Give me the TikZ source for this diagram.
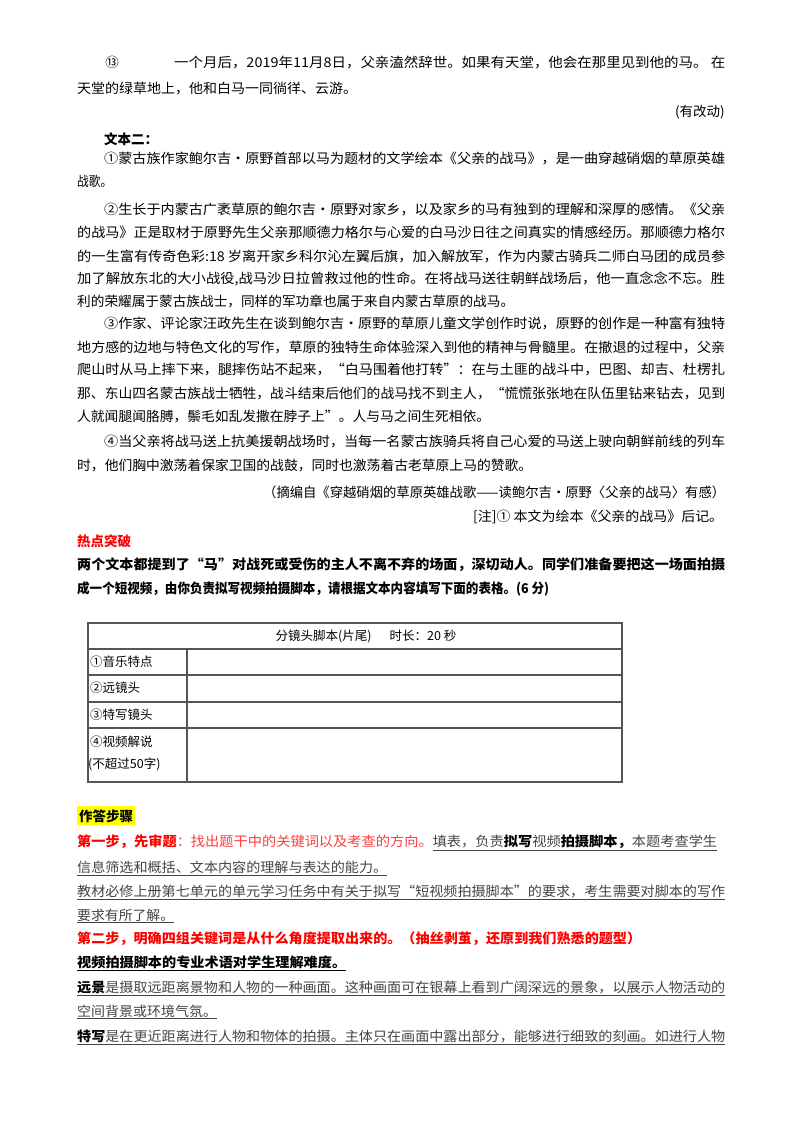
\documentclass[tikz,border=0pt]{standalone}
\usepackage{fontspec}
\setmainfont{Noto Sans CJK SC}
\usepackage{graphicx}
\definecolor{ugray}{HTML}{444444}
\definecolor{tline}{HTML}{555555}
\definecolor{hl}{HTML}{FFFF00}
\newcommand\Ln[5]{\node[anchor=west,inner sep=0] (#1) at (#2pt,-#3pt) {\resizebox{#4pt}{\height}{#5}};}
\newcommand\ulg[1]{{\color{ugray}\underline{#1}}}
\begin{document}
\begin{tikzpicture}[every node/.style={font=\fontsize{13.5}{16}\selectfont}]
\useasboundingbox[fill=white] (0,0) rectangle (800pt,-1134pt);
\node[inner sep=0] (n13) at (112pt,-62pt) {⑬};
\Ln{a1}{174}{62}{551}{一个月后，2019年11月8日，父亲溘然辞世。如果有天堂，他会在那里见到他的马。 在}
\Ln{a2}{77}{89}{280}{天堂的绿草地上，他和白马一同徜徉、云游。}
\node[anchor=east,inner sep=0] (a3) at (725pt,-112pt) {(有改动)};
\node[anchor=west,inner sep=0] (a4) at (104pt,-139pt) {\bfseries 文本二：};
\Ln{b1}{104}{158}{621}{①蒙古族作家鲍尔吉•原野首部以马为题材的文学绘本《父亲的战马》，是一曲穿越硝烟的草原英雄}
\Ln{b2}{77}{181}{35}{战歌。}
\Ln{b3}{104}{209}{621}{②生长于内蒙古广袤草原的鲍尔吉•原野对家乡，以及家乡的马有独到的理解和深厚的感情。《父亲}
\Ln{b4}{77}{232}{648}{的战马》正是取材于原野先生父亲那顺德力格尔与心爱的白马沙日往之间真实的情感经历。那顺德力格尔}
\Ln{b5}{77}{256}{648}{的一生富有传奇色彩:18 岁离开家乡科尔沁左翼后旗，加入解放军，作为内蒙古骑兵二师白马团的成员参}
\Ln{b6}{77}{279}{648}{加了解放东北的大小战役,战马沙日拉曾救过他的性命。在将战马送往朝鲜战场后，他一直念念不忘。胜}
\Ln{b7}{77}{301}{437}{利的荣耀属于蒙古族战士，同样的军功章也属于来自内蒙古草原的战马。}
\Ln{c1}{104}{323}{621}{③作家、评论家汪政先生在谈到鲍尔吉•原野的草原儿童文学创作时说，原野的创作是一种富有独特}
\Ln{c2}{77}{347}{648}{地方感的边地与特色文化的写作，草原的独特生命体验深入到他的精神与骨髓里。在撤退的过程中，父亲}
\Ln{c3}{77}{370}{648}{爬山时从马上摔下来，腿摔伤站不起来，“白马围着他打转”：在与土匪的战斗中，巴图、却吉、杜楞扎}
\Ln{c4}{77}{394}{648}{那、东山四名蒙古族战士牺牲，战斗结束后他们的战马找不到主人，“慌慌张张地在队伍里钻来钻去，见到}
\Ln{c5}{77}{417}{413}{人就闻腿闻胳膊，鬃毛如乱发撒在脖子上”。人与马之间生死相依。}
\Ln{c6}{104}{441}{621}{④当父亲将战马送上抗美援朝战场时，当每一名蒙古族骑兵将自己心爱的马送上驶向朝鲜前线的列车}
\Ln{c7}{77}{465}{455}{时，他们胸中激荡着保家卫国的战鼓，同时也激荡着古老草原上马的赞歌。}
\Ln{c8}{263}{492}{462}{（摘编自《穿越硝烟的草原英雄战歌——读鲍尔吉•原野〈父亲的战马〉有感）}
\Ln{c9}{473}{517}{250}{[注]① 本文为绘本《父亲的战马》后记。}
\node[anchor=west,inner sep=0,text=red] (d1) at (77pt,-541pt) {\bfseries 热点突破};
\Ln{d2}{77}{565}{648}{\bfseries 两个文本都提到了“马”对战死或受伤的主人不离不弃的场面，深切动人。同学们准备要把这一场面拍摄}
\Ln{d3}{77}{589}{472}{\bfseries 成一个短视频，由你负责拟写视频拍摄脚本，请根据文本内容填写下面的表格。(6 分)}
% table
\draw[tline,line width=1.2pt] (88pt,-623pt) rectangle (622pt,-782pt);
\foreach \yy in {649,675,702,728} \draw[tline,line width=1.2pt] (88pt,-\yy pt) -- (622pt,-\yy pt);
\draw[tline,line width=1.2pt] (187pt,-649pt) -- (187pt,-782pt);
\node[inner sep=0,font=\fontsize{12.5}{15}\selectfont] (th) at (366pt,-636pt) {分镜头脚本(片尾)\quad\ \ 时长：20 秒};
\node[anchor=west,inner sep=0,font=\fontsize{12.5}{15}\selectfont] (t1) at (90pt,-662pt) {①音乐特点};
\node[anchor=west,inner sep=0,font=\fontsize{12.5}{15}\selectfont] (t2) at (90pt,-688pt) {②远镜头};
\node[anchor=west,inner sep=0,font=\fontsize{12.5}{15}\selectfont] (t3) at (90pt,-715pt) {③特写镜头};
\node[anchor=west,inner sep=0,font=\fontsize{12.5}{15}\selectfont] (t4) at (90pt,-742pt) {④视频解说};
\node[anchor=west,inner sep=0,font=\fontsize{12.5}{15}\selectfont] (t5) at (88pt,-764pt) {(不超过50字)};
% steps
\fill[hl] (77pt,-806pt) rectangle (135pt,-825pt);
\node[anchor=west,inner sep=0] (e0) at (79pt,-816pt) {\bfseries 作答步骤};
\Ln{e1}{77}{843}{640}{{\bfseries\color{red}第一步，先审题}{\color[HTML]{FF3B3B}：找出题干中的关键词以及考查的方向。}\ulg{填表，负责{\bfseries\color{black}拟写}视频{\bfseries\color{black}拍摄脚本，}本题考查学生}}
\Ln{e2}{77}{868}{310}{\ulg{信息筛选和概括、文本内容的理解与表达的能力。}}
\Ln{e3}{77}{892}{648}{\ulg{教材必修上册第七单元的单元学习任务中有关于拟写“短视频拍摄脚本”的要求，考生需要对脚本的写作}}
\Ln{e4}{77}{916}{97}{\ulg{要求有所了解。}}
\Ln{e5}{77}{939}{564}{\bfseries\color{red}第二步，明确四组关键词是从什么角度提取出来的。（抽丝剥茧，还原到我们熟悉的题型）}
\Ln{e6}{77}{963}{269}{\bfseries\underline{视频拍摄脚本的专业术语对学生理解难度。}}
\Ln{e7}{77}{988}{648}{\ulg{{\bfseries\color{black}远景}是摄取远距离景物和人物的一种画面。这种画面可在银幕上看到广阔深远的景象，以展示人物活动的}}
\Ln{e8}{77}{1012}{140}{\ulg{空间背景或环境气氛。}}
\Ln{e9}{77}{1037}{648}{\ulg{{\bfseries\color{black}特写}是在更近距离进行人物和物体的拍摄。主体只在画面中露出部分，能够进行细致的刻画。如进行人物}}
\end{tikzpicture}
\end{document}
